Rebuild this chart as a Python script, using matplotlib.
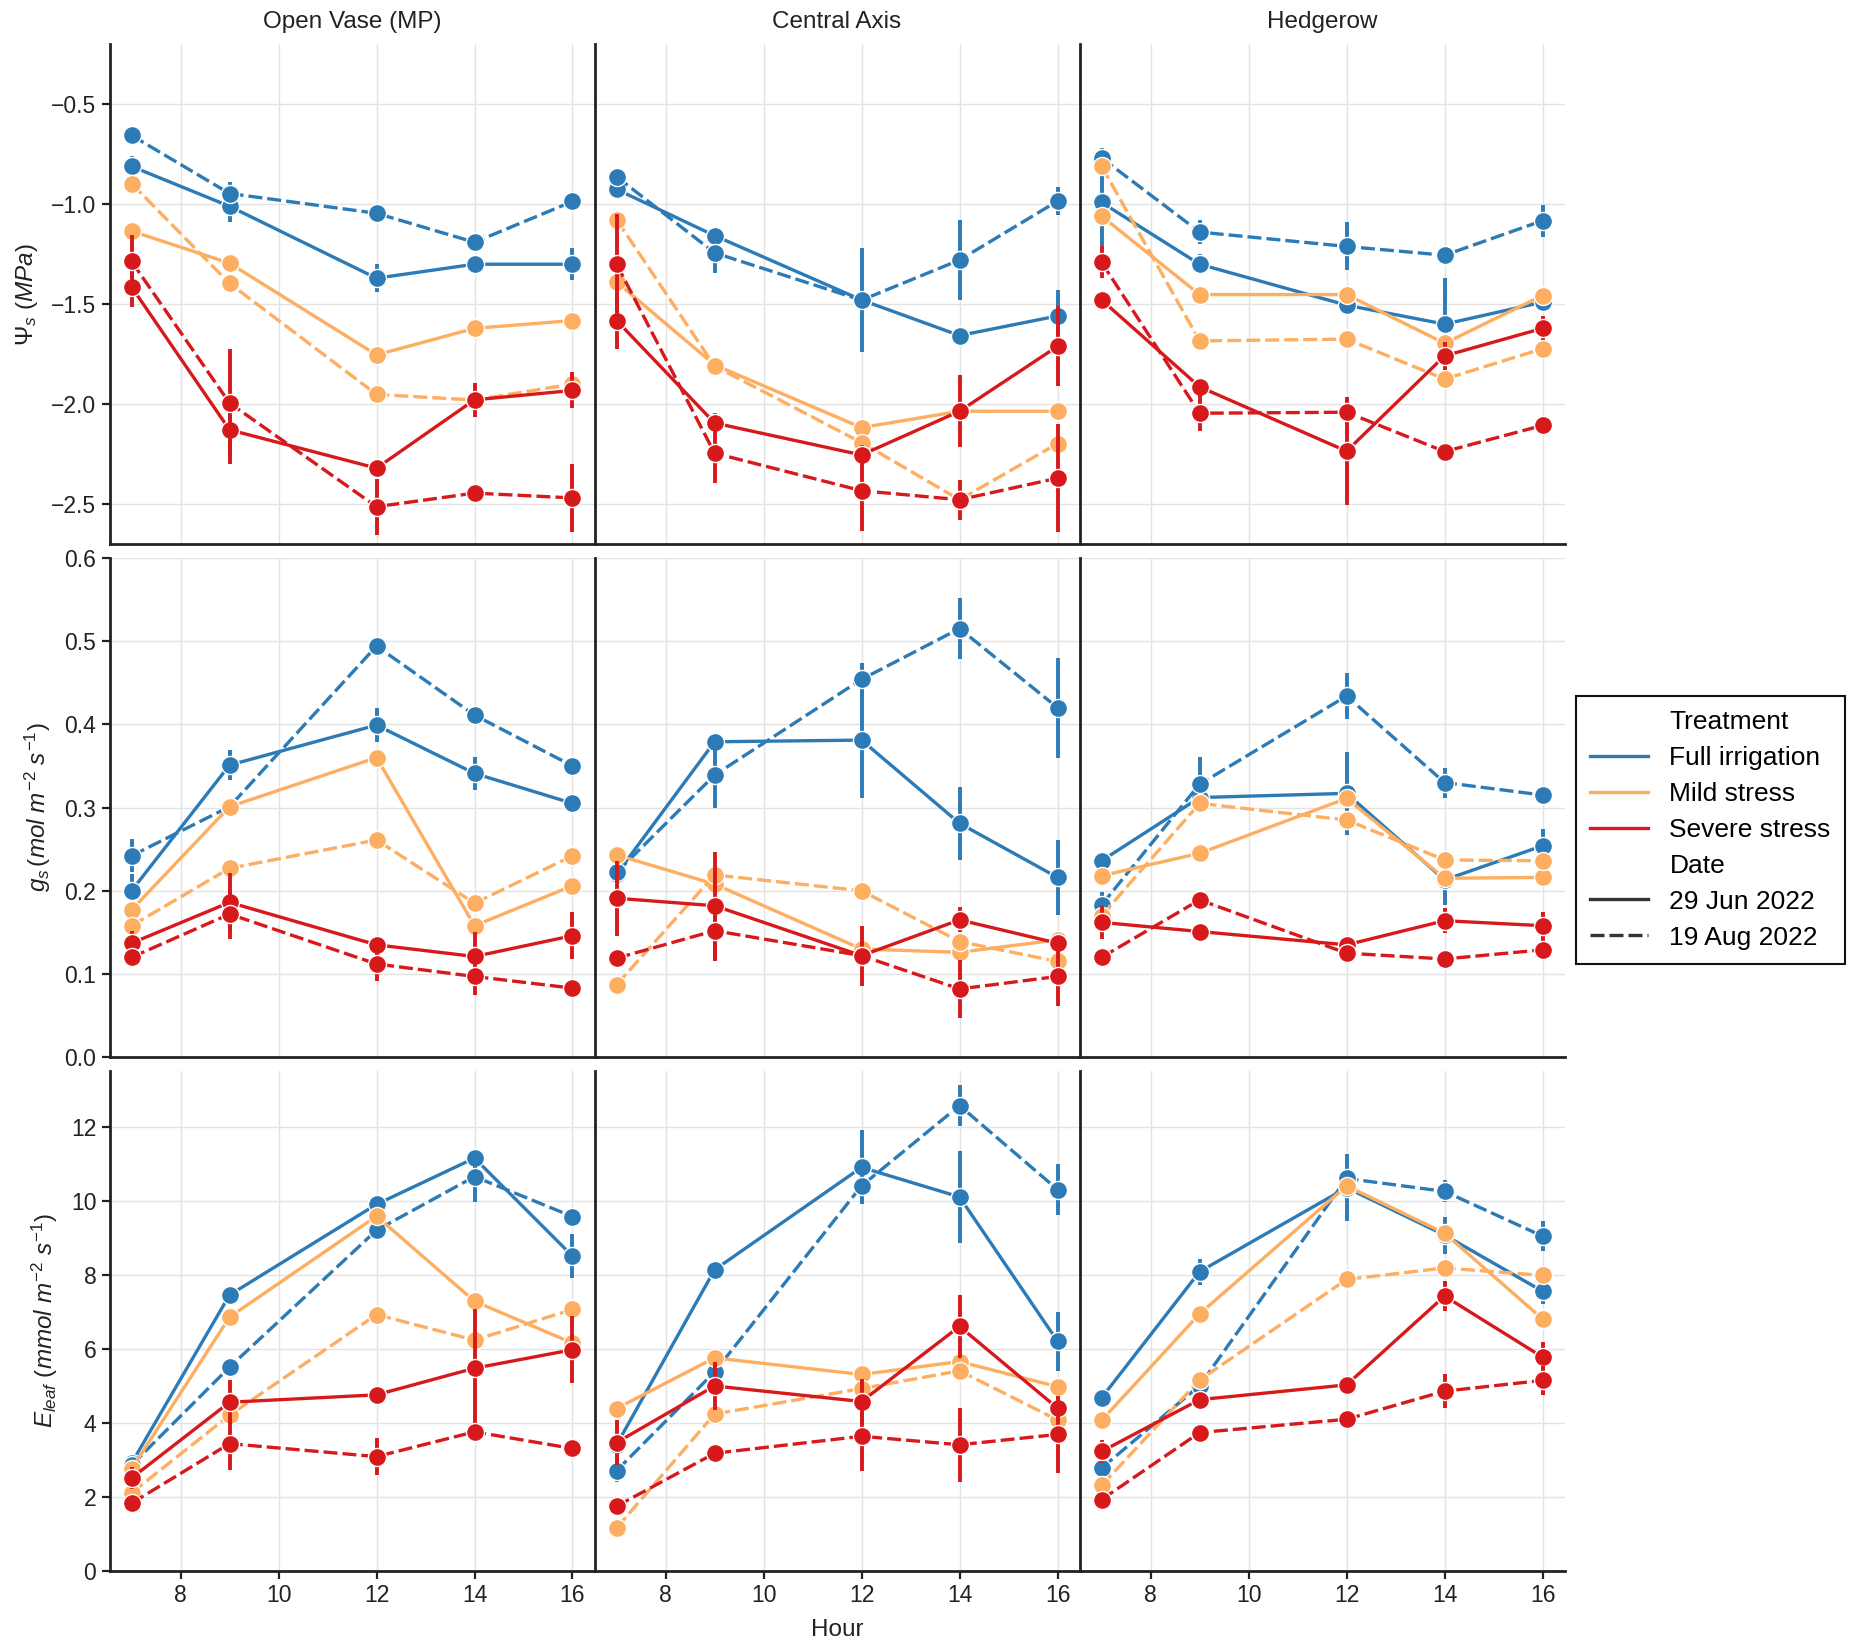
import matplotlib
matplotlib.use("Agg")
import matplotlib.pyplot as plt
from matplotlib.lines import Line2D
import numpy as np

# ---------------- data ----------------
hours = [7, 9, 12, 14, 16]
systems = ["Open Vase (MP)", "Central Axis", "Hedgerow"]
treatments = ["Full irrigation", "Mild stress", "Severe stress"]
dates = ["29 Jun 2022", "19 Aug 2022"]
treatment_colors = ["#2c7bb6", "#fdae61", "#d7191c"]

# series order in each panel: (Full, Jun), (Full, Aug), (Mild, Jun), (Mild, Aug), (Severe, Jun), (Severe, Aug)
psi_open_vase = [
    [-0.81, -1.01, -1.37, -1.30, -1.30],
    [-0.655, -0.946, -1.045, -1.19, -0.986],
    [-1.134, -1.295, -1.754, -1.621, -1.582],
    [-0.896, -1.396, -1.952, -1.98, -1.90],
    [-1.414, -2.129, -2.321, -1.979, -1.932],
    [-1.286, -1.995, -2.514, -2.446, -2.47],
]
psi_open_vase_err = [
    [0.05, 0.08, 0.07, 0.02, 0.08],
    [0.02, 0.06, 0.02, 0.02, 0.02],
    [0.02, 0.02, 0.02, 0.02, 0.02],
    [0.02, 0.02, 0.02, 0.02, 0.02],
    [0.10, 0.17, 0.03, 0.085, 0.09],
    [0.13, 0.27, 0.14, 0.02, 0.17],
]
psi_central_axis = [
    [-0.925, -1.157, -1.479, -1.657, -1.559],
    [-0.862, -1.243, -1.48, -1.279, -0.984],
    [-1.389, -1.804, -2.118, -2.036, -2.036],
    [-1.077, -1.81, -2.193, -2.479, -2.198],
    [-1.582, -2.095, -2.255, -2.036, -1.711],
    [-1.30, -2.246, -2.434, -2.479, -2.371],
]
psi_central_axis_err = [
    [0.02, 0.02, 0.02, 0.02, 0.13],
    [0.02, 0.10, 0.26, 0.20, 0.07],
    [0.02, 0.02, 0.02, 0.02, 0.02],
    [0.02, 0.02, 0.02, 0.02, 0.02],
    [0.14, 0.05, 0.05, 0.18, 0.20],
    [0.25, 0.15, 0.20, 0.10, 0.27],
]
psi_hedgerow = [
    [-0.991, -1.30, -1.505, -1.60, -1.49],
    [-0.768, -1.139, -1.211, -1.255, -1.082],
    [-1.059, -1.452, -1.452, -1.696, -1.457],
    [-0.809, -1.684, -1.675, -1.875, -1.723],
    [-1.479, -1.914, -2.236, -1.759, -1.621],
    [-1.291, -2.046, -2.041, -2.238, -2.107],
]
psi_hedgerow_err = [
    [0.22, 0.05, 0.02, 0.23, 0.02],
    [0.05, 0.06, 0.12, 0.02, 0.08],
    [0.02, 0.02, 0.02, 0.02, 0.02],
    [0.02, 0.02, 0.02, 0.02, 0.02],
    [0.03, 0.02, 0.27, 0.07, 0.06],
    [0.08, 0.09, 0.06, 0.02, 0.02],
]

gs_open_vase = [
    [0.200, 0.351, 0.399, 0.341, 0.305],
    [0.242, 0.301, 0.494, 0.411, 0.350],
    [0.177, 0.301, 0.360, 0.158, 0.206],
    [0.158, 0.227, 0.261, 0.185, 0.242],
    [0.137, 0.186, 0.135, 0.121, 0.146],
    [0.120, 0.172, 0.112, 0.097, 0.083],
]
gs_open_vase_err = [
    [0.020, 0.018, 0.020, 0.020, 0.010],
    [0.020, 0.010, 0.005, 0.005, 0.005],
    [0.005, 0.005, 0.005, 0.005, 0.005],
    [0.005, 0.005, 0.005, 0.005, 0.005],
    [0.015, 0.035, 0.010, 0.030, 0.028],
    [0.012, 0.030, 0.020, 0.022, 0.005],
]
gs_central_axis = [
    [0.220, 0.379, 0.381, 0.281, 0.216],
    [0.222, 0.339, 0.454, 0.515, 0.420],
    [0.243, 0.208, 0.130, 0.126, 0.141],
    [0.087, 0.219, 0.200, 0.139, 0.115],
    [0.191, 0.182, 0.122, 0.165, 0.137],
    [0.119, 0.152, 0.122, 0.082, 0.097],
]
gs_central_axis_err = [
    [0.010, 0.010, 0.070, 0.044, 0.045],
    [0.010, 0.040, 0.020, 0.037, 0.060],
    [0.005, 0.005, 0.005, 0.005, 0.005],
    [0.005, 0.005, 0.005, 0.005, 0.005],
    [0.045, 0.065, 0.036, 0.015, 0.010],
    [0.005, 0.037, 0.010, 0.035, 0.035],
]
gs_hedgerow = [
    [0.236, 0.312, 0.317, 0.213, 0.254],
    [0.183, 0.328, 0.434, 0.330, 0.315],
    [0.218, 0.245, 0.311, 0.215, 0.216],
    [0.170, 0.305, 0.285, 0.237, 0.236],
    [0.162, 0.151, 0.135, 0.164, 0.158],
    [0.120, 0.189, 0.125, 0.118, 0.129],
]
gs_hedgerow_err = [
    [0.010, 0.010, 0.050, 0.030, 0.020],
    [0.015, 0.033, 0.028, 0.018, 0.005],
    [0.005, 0.005, 0.005, 0.005, 0.005],
    [0.005, 0.005, 0.005, 0.005, 0.005],
    [0.020, 0.005, 0.005, 0.015, 0.017],
    [0.005, 0.005, 0.005, 0.010, 0.012],
]

e_open_vase = [
    [2.90, 7.45, 9.90, 11.15, 8.50],
    [2.85, 5.50, 9.20, 10.65, 9.57],
    [2.75, 6.85, 9.58, 7.28, 6.15],
    [2.10, 4.20, 6.92, 6.23, 7.06],
    [2.50, 4.55, 4.75, 5.47, 5.97],
    [1.82, 3.43, 3.08, 3.75, 3.30],
]
e_open_vase_err = [
    [0.10, 0.10, 0.10, 0.10, 0.60],
    [0.10, 0.10, 0.10, 0.70, 0.10],
    [0.10, 0.10, 0.10, 0.10, 0.10],
    [0.10, 0.10, 0.10, 0.10, 0.10],
    [0.30, 0.60, 0.10, 1.60, 0.90],
    [0.25, 0.70, 0.50, 0.10, 0.10],
]
e_central_axis = [
    [3.40, 8.13, 10.90, 10.10, 6.20],
    [2.70, 5.37, 10.40, 12.57, 10.30],
    [4.38, 5.75, 5.30, 5.65, 4.97],
    [1.15, 4.23, 4.92, 5.40, 4.07],
    [3.46, 4.99, 4.57, 6.60, 4.39],
    [1.74, 3.17, 3.63, 3.40, 3.68],
]
e_central_axis_err = [
    [0.10, 0.10, 1.00, 1.25, 0.80],
    [0.30, 0.10, 0.50, 0.55, 0.70],
    [0.10, 0.10, 0.10, 0.10, 0.10],
    [0.10, 0.10, 0.10, 0.10, 0.10],
    [0.60, 0.65, 0.60, 0.85, 0.30],
    [0.10, 0.10, 0.95, 1.00, 1.05],
]
e_hedgerow = [
    [4.67, 8.08, 10.35, 9.07, 7.55],
    [2.77, 5.00, 10.60, 10.25, 9.04],
    [4.06, 6.94, 10.40, 9.12, 6.80],
    [2.30, 5.15, 7.87, 8.18, 7.98],
    [3.22, 4.62, 5.02, 7.42, 5.77],
    [1.92, 3.73, 4.09, 4.85, 5.14],
]
e_hedgerow_err = [
    [0.10, 0.35, 0.90, 0.50, 0.35],
    [0.10, 0.10, 0.10, 0.30, 0.40],
    [0.10, 0.10, 0.10, 0.10, 0.10],
    [0.10, 0.10, 0.10, 0.10, 0.10],
    [0.30, 0.10, 0.10, 0.40, 0.40],
    [0.10, 0.10, 0.10, 0.45, 0.40],
]

ylabels = [r"$\Psi_s\ (MPa)$",
           r"$g_s\,(mol\ m^{-2}\ s^{-1})$",
           r"$E_{leaf}\ (mmol\ m^{-2}\ s^{-1})$"]
yticks_rows = [[-2.5, -2.0, -1.5, -1.0, -0.5],
               [0.0, 0.1, 0.2, 0.3, 0.4, 0.5, 0.6],
               [0, 2, 4, 6, 8, 10, 12]]
ylims_rows = [(-2.7, -0.2), (0.0, 0.6), (0.0, 13.5)]
xticks = [8, 10, 12, 14, 16]

means = [[psi_open_vase, psi_central_axis, psi_hedgerow],
         [gs_open_vase, gs_central_axis, gs_hedgerow],
         [e_open_vase, e_central_axis, e_hedgerow]]
errs = [[psi_open_vase_err, psi_central_axis_err, psi_hedgerow_err],
        [gs_open_vase_err, gs_central_axis_err, gs_hedgerow_err],
        [e_open_vase_err, e_central_axis_err, e_hedgerow_err]]

# ---------------- style ----------------
plt.rcParams["font.family"] = ["Liberation Sans", "DejaVu Sans"]
plt.rcParams["mathtext.fontset"] = "custom"
plt.rcParams["mathtext.rm"] = "Liberation Sans"
plt.rcParams["mathtext.it"] = "Liberation Sans:italic"
plt.rcParams["mathtext.bf"] = "Liberation Sans:bold"

SPINE = "#222222"
LW = 2.4
DASH = (4.2, 1.5)

fig, axes = plt.subplots(3, 3, figsize=(18.56, 16.48), dpi=100,
                         sharex=True, sharey="row")
fig.subplots_adjust(left=0.059, right=0.843, top=0.973, bottom=0.047,
                    wspace=0.0, hspace=0.028)

for r in range(3):
    for c in range(3):
        ax = axes[r][c]
        ax.set_axisbelow(True)
        ax.grid(True, color="#e3e3e3", lw=1.0)
        for s in ["top", "right"]:
            ax.spines[s].set_visible(False)
        for s in ["left", "bottom"]:
            ax.spines[s].set_color(SPINE)
            ax.spines[s].set_linewidth(2.0)
        k = 0
        for t in range(3):
            for d in range(2):
                y = np.array(means[r][c][k])
                e = np.array(errs[r][c][k])
                col = treatment_colors[t]
                ax.vlines(hours, y - e, y + e, color=col, lw=2.8, zorder=2 + k)
                ln, = ax.plot(hours, y, color=col, lw=LW, marker="o", ms=13,
                              mec="white", mew=1.0, zorder=2 + k)
                if d == 1:
                    ln.set_dashes(DASH)
                k += 1
        ax.set_ylim(*ylims_rows[r])
        ax.set_yticks(yticks_rows[r])
        ax.set_xlim(6.55, 16.45)
        ax.set_xticks(xticks)
        ax.tick_params(axis="both", labelsize=16.5, colors="#222222",
                       width=1.6, length=6)
        if c != 0:
            ax.tick_params(axis="y", length=0, labelleft=False)
        if r != 2:
            ax.tick_params(axis="x", length=0, labelbottom=False)
        if r == 0:
            ax.set_title(systems[c], fontsize=17.5, pad=12, color="#222222")
        if c == 0:
            ax.set_ylabel(ylabels[r], fontsize=17.5, labelpad=8, color="#222222")

axes[2][1].set_xlabel("Hour", fontsize=17.5, color="#222222", labelpad=9)

handles = [Line2D([], [], linestyle="none", marker="none", label="Treatment")]
for t in range(3):
    handles.append(Line2D([], [], color=treatment_colors[t], lw=LW, label=treatments[t]))
handles.append(Line2D([], [], linestyle="none", marker="none", label="Date"))
handles.append(Line2D([], [], color="#333333", lw=LW, label=dates[0]))
dl = Line2D([], [], color="#333333", lw=LW, label=dates[1])
dl.set_dashes(DASH)
handles.append(dl)

leg = fig.legend(handles=handles, loc="center", bbox_to_anchor=(0.9216, 0.4964),
                 fontsize=19, frameon=True, fancybox=False, framealpha=1,
                 edgecolor="#111111", labelspacing=0.45, handlelength=2.2,
                 borderpad=0.55)
leg.get_frame().set_linewidth(1.5)

fig.savefig("out.png", dpi=100)
